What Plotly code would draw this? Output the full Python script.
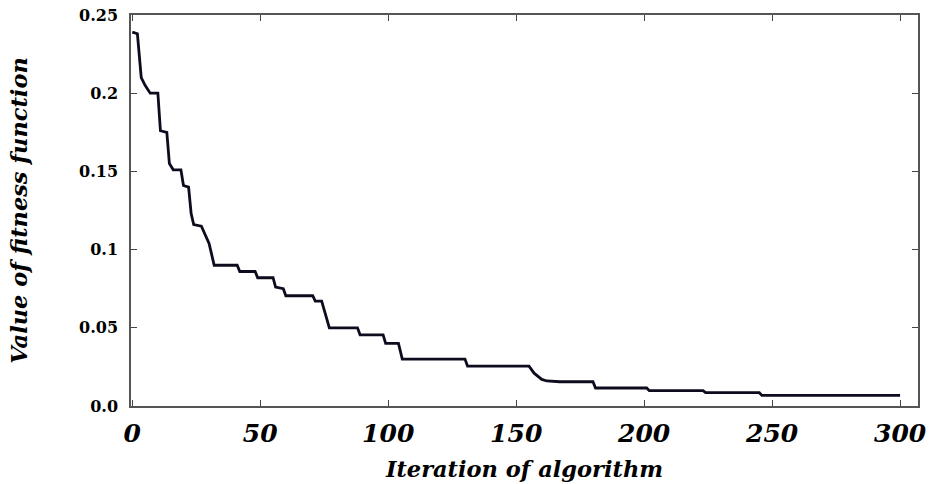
import plotly.graph_objects as go

iterations = [0, 2, 3.5, 5, 7, 10, 11, 13.5, 14.5, 16, 19, 20, 22, 23, 24, 27, 30, 32,
              41, 42, 48, 49, 55, 56, 59, 60, 70.5, 71.5, 74, 77, 88, 89, 98, 99, 104,
              105.5, 130, 131, 155, 157, 160, 162, 167, 180, 181, 201, 202, 223, 224,
              245, 246, 300]
fitness = [0.239, 0.238, 0.21, 0.205, 0.2, 0.2, 0.176, 0.175, 0.155, 0.151, 0.151, 0.141,
           0.140, 0.123, 0.116, 0.115, 0.104, 0.09, 0.09, 0.086, 0.086, 0.082, 0.082,
           0.076, 0.075, 0.0705, 0.0705, 0.067, 0.067, 0.05, 0.05, 0.0455, 0.0455, 0.04,
           0.04, 0.030, 0.030, 0.0255, 0.0255, 0.021, 0.017, 0.016, 0.0155, 0.0155,
           0.0115, 0.0115, 0.0098, 0.0098, 0.0085, 0.0085, 0.0068, 0.0068]

x_ticks = [0, 50, 100, 150, 200, 250, 300]
y_ticks = [0, 0.05, 0.1, 0.15, 0.2, 0.25]
y_ticktext = ["0.0", "0.05", "0.1", "0.15", "0.2", "0.25"]

fig = go.Figure()
fig.add_trace(go.Scatter(x=iterations, y=fitness, mode="lines",
                         line=dict(color="#0c0c1e", width=2.8), showlegend=False))

serif = "DejaVu Serif"
fig.update_layout(
    width=937, height=484,
    margin=dict(l=131, r=19, t=15, b=78),
    paper_bgcolor="white", plot_bgcolor="white",
    xaxis=dict(
        range=[-0.5, 307], tickvals=x_ticks, ticks="inside", ticklen=6,
        tickcolor="#444", showgrid=False, zeroline=False, automargin=False,
        showline=True, linecolor="#555", linewidth=1.5, mirror="ticks",
        ticklabelstandoff=4,
        tickfont=dict(family=serif, size=25, color="black", weight="bold", style="italic"),
        title=dict(text="Iteration of algorithm", standoff=14,
                   font=dict(family=serif, size=22.5, color="black", weight="bold", style="italic")),
    ),
    yaxis=dict(
        range=[0, 0.25], tickvals=y_ticks, ticktext=y_ticktext, ticks="inside", ticklen=6,
        tickcolor="#444", showgrid=False, zeroline=False, automargin=False,
        showline=True, linecolor="#555", linewidth=1.5, mirror="ticks",
        ticklabelstandoff=8,
        tickfont=dict(family=serif, size=16, color="black", weight="bold"),
        title=dict(text="Value of fitness function", standoff=45,
                   font=dict(family=serif, size=22.5, color="black", weight="bold", style="italic")),
    ),
)

fig.write_html("out.html", config={"displayModeBar": False},
               post_script="document.body.style.margin='0';")
